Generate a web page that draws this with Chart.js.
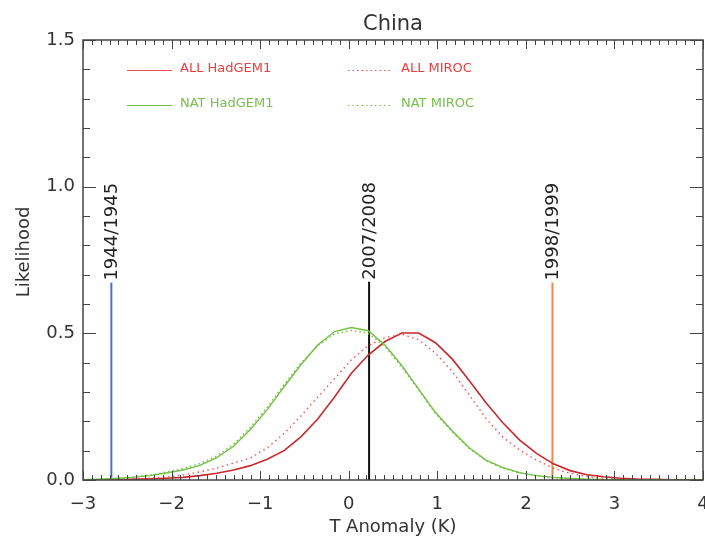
<!DOCTYPE html>
<html>
<head>
<meta charset="utf-8">
<script src="https://cdn.jsdelivr.net/npm/chart.js@4"></script>
<style>
  html, body { margin: 0; padding: 0; background: #fff; }
  #wrap { width: 705px; height: 540px; }
</style>
</head>
<body>
<div id="wrap"><canvas id="chart" width="705" height="540"></canvas></div>
<script>
// T anomaly (K) at which the likelihood curves are sampled
const tAnomaly = [-3.00, -2.82, -2.63, -2.44, -2.25, -2.06, -1.87, -1.68, -1.49, -1.30,
  -1.11, -0.92, -0.73, -0.54, -0.35, -0.16, 0.03, 0.22, 0.41, 0.60,
  0.79, 0.98, 1.17, 1.36, 1.55, 1.74, 1.93, 2.12, 2.31, 2.50,
  2.69, 2.88, 3.07, 3.26, 3.45, 3.64, 3.83, 4.00];

const allHadGEM1 = [0.000, 0.001, 0.001, 0.002, 0.004, 0.006, 0.009, 0.015, 0.023, 0.034,
  0.049, 0.071, 0.100, 0.147, 0.208, 0.283, 0.364, 0.426, 0.472, 0.501,
  0.501, 0.468, 0.412, 0.339, 0.263, 0.195, 0.136, 0.091, 0.055, 0.032,
  0.018, 0.011, 0.006, 0.003, 0.002, 0.001, 0.000, 0.000];

const allMIROC = [0.000, 0.001, 0.002, 0.004, 0.006, 0.010, 0.017, 0.028, 0.040, 0.058,
  0.075, 0.110, 0.158, 0.218, 0.283, 0.345, 0.410, 0.458, 0.485, 0.497,
  0.478, 0.432, 0.370, 0.290, 0.210, 0.146, 0.102, 0.068, 0.040, 0.023,
  0.012, 0.006, 0.003, 0.002, 0.001, 0.000, 0.000, 0.000];

const natHadGEM1 = [0.001, 0.003, 0.005, 0.009, 0.015, 0.024, 0.034, 0.050, 0.076, 0.115,
  0.172, 0.240, 0.318, 0.393, 0.460, 0.506, 0.520, 0.509, 0.460, 0.390,
  0.310, 0.230, 0.167, 0.110, 0.068, 0.042, 0.025, 0.015, 0.009, 0.005,
  0.003, 0.002, 0.001, 0.000, 0.000, 0.000, 0.000, 0.000];

const natMIROC = [0.001, 0.003, 0.006, 0.010, 0.017, 0.027, 0.039, 0.056, 0.082, 0.122,
  0.180, 0.248, 0.325, 0.398, 0.458, 0.498, 0.510, 0.500, 0.455, 0.385,
  0.306, 0.227, 0.163, 0.107, 0.066, 0.040, 0.024, 0.014, 0.008, 0.004,
  0.002, 0.001, 0.000, 0.000, 0.000, 0.000, 0.000, 0.000];

// observed events: vertical markers
const eventYears = ["1944/1945", "2007/2008", "1998/1999"];
const eventAnomaly = [-2.68, 0.23, 2.30];
const eventHeight = [0.673, 0.676, 0.673];

const xTicks = [-3, -2, -1, 0, 1, 2, 3, 4];
const yTicks = [0.0, 0.5, 1.0, 1.5];

const FONT = "'DejaVu Sans', sans-serif";
const RED = "#c8282a", RED_LIGHT = "#f05050", GREEN = "#72c044";
const eventColors = ["#4a6fd0", "#111111", "#f08a40"];

function pts(ys) {
  return tAnomaly.map((t, i) => ({ x: t, y: ys[i] }));
}

const datasets = [
  { data: pts(natMIROC), borderColor: GREEN, borderWidth: 1.4, borderDash: [1.5, 3] },
  { data: pts(natHadGEM1), borderColor: GREEN, borderWidth: 1.4 },
  { data: pts(allMIROC), borderColor: RED_LIGHT, borderWidth: 1.4, borderDash: [1.5, 3.5] },
  { data: pts(allHadGEM1), borderColor: RED, borderWidth: 1.6 }
];
eventAnomaly.forEach((t, i) => {
  datasets.push({
    data: [{ x: t, y: 0 }, { x: t, y: eventHeight[i] }],
    borderColor: eventColors[i],
    borderWidth: 2
  });
});
datasets.forEach(d => { d.pointRadius = 0; d.fill = false; d.tension = 0; });

const decorations = {
  id: "decorations",
  afterDraw(chart) {
    const ctx = chart.ctx;
    const a = chart.chartArea;
    const xs = chart.scales.x, ys = chart.scales.y;
    ctx.save();

    // frame
    ctx.strokeStyle = "#444";
    ctx.lineWidth = 1.5;
    ctx.strokeRect(a.left, a.top, a.right - a.left, a.bottom - a.top);

    // inward ticks, x
    ctx.lineWidth = 1;
    for (let k = -30; k <= 40; k++) {
      const px = Math.round(xs.getPixelForValue(k / 10)) + 0.5;
      const len = k % 10 === 0 ? 9 : 5;
      ctx.beginPath();
      ctx.moveTo(px, a.bottom); ctx.lineTo(px, a.bottom - len);
      ctx.moveTo(px, a.top); ctx.lineTo(px, a.top + len);
      ctx.stroke();
    }
    // inward ticks, y
    for (let k = 0; k <= 15; k++) {
      const py = Math.round(ys.getPixelForValue(k / 10)) + 0.5;
      const len = k % 5 === 0 ? 13 : 7;
      ctx.beginPath();
      ctx.moveTo(a.left, py); ctx.lineTo(a.left + len, py);
      ctx.moveTo(a.right, py); ctx.lineTo(a.right - len, py);
      ctx.stroke();
    }

    // title and axis titles
    ctx.fillStyle = "#333";
    ctx.textAlign = "center";
    ctx.textBaseline = "alphabetic";
    ctx.font = "21px " + FONT;
    ctx.fillText("China", (a.left + a.right) / 2, 30);
    ctx.font = "18px " + FONT;
    ctx.fillText("T Anomaly (K)", (a.left + a.right) / 2, 532);
    ctx.save();
    ctx.translate(24, 252);
    ctx.rotate(-Math.PI / 2);
    ctx.textBaseline = "middle";
    ctx.fillText("Likelihood", 0, 0);
    ctx.restore();

    // event labels
    ctx.font = "18px " + FONT;
    eventYears.forEach((label, i) => {
      const px = xs.getPixelForValue(eventAnomaly[i]);
      const py = ys.getPixelForValue(eventHeight[i]);
      ctx.save();
      ctx.translate(px + 1, py - 2);
      ctx.rotate(-Math.PI / 2);
      ctx.textAlign = "left";
      ctx.textBaseline = "middle";
      ctx.fillStyle = "#222";
      ctx.fillText(label, 0, 0);
      ctx.restore();
    });

    // legend
    const legend = [
      { text: "ALL HadGEM1", color: RED_LIGHT, dash: [], x: 127, y: 71 },
      { text: "ALL MIROC", color: RED_LIGHT, dash: [1.5, 3], x: 348, y: 71 },
      { text: "NAT HadGEM1", color: GREEN, dash: [], x: 127, y: 106 },
      { text: "NAT MIROC", color: GREEN, dash: [1.5, 3], x: 348, y: 106 }
    ];
    ctx.font = "13px " + FONT;
    ctx.textAlign = "left";
    ctx.textBaseline = "alphabetic";
    legend.forEach(l => {
      ctx.strokeStyle = l.color;
      ctx.lineWidth = 1.2;
      ctx.setLineDash(l.dash);
      ctx.beginPath();
      ctx.moveTo(l.x, l.y - 0.5); ctx.lineTo(l.x + 45, l.y - 0.5);
      ctx.stroke();
      ctx.setLineDash([]);
      ctx.fillStyle = l.color === RED_LIGHT ? "#ec3c3c" : "#76c04c";
      ctx.fillText(l.text, l.x + 53, l.y + 1);
    });
    ctx.restore();
  }
};

new Chart(document.getElementById("chart"), {
  type: "line",
  data: { datasets: datasets },
  options: {
    responsive: false,
    animation: false,
    layout: { padding: { top: 40, right: 2, left: 0, bottom: 0 } },
    plugins: { legend: { display: false }, tooltip: { enabled: false } },
    scales: {
      x: {
        type: "linear", min: -3, max: 4,
        afterBuildTicks: s => { s.ticks = xTicks.map(v => ({ value: v })); },
        afterFit: s => { s.height = 60; s.paddingLeft = 0; s.paddingRight = 0; },
        grid: { display: false },
        border: { display: false },
        ticks: {
          padding: 6, color: "#333", font: { family: FONT, size: 18 },
          callback: v => v < 0 ? "\u2212" + Math.abs(v) : String(v)
        }
      },
      y: {
        min: 0, max: 1.5,
        afterBuildTicks: s => { s.ticks = yTicks.map(v => ({ value: v })); },
        afterFit: s => { s.width = 83; s.paddingTop = 0; s.paddingBottom = 0; },
        grid: { display: false },
        border: { display: false },
        ticks: {
          padding: 0, color: "#333", font: { family: FONT, size: 18 },
          callback: v => Number(v).toFixed(1)
        }
      }
    }
  },
  plugins: [decorations]
});
</script>
</body>
</html>
